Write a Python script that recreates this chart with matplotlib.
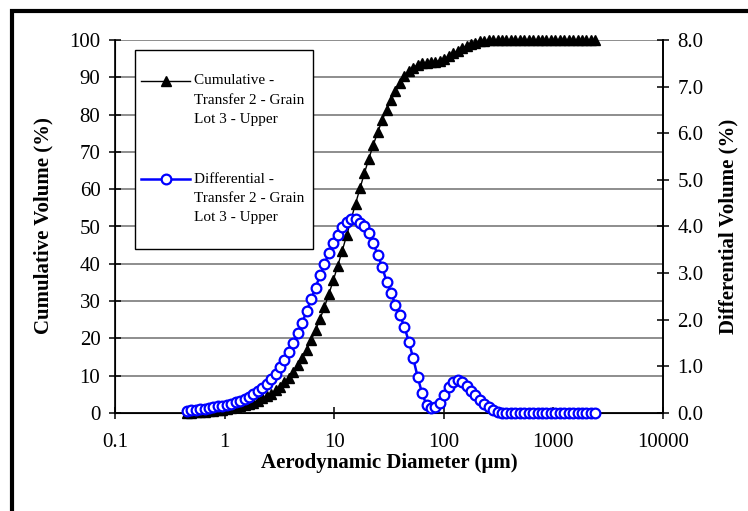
import numpy as np
import matplotlib
matplotlib.use("Agg")
import matplotlib.pyplot as plt
from matplotlib.lines import Line2D
from matplotlib.patches import Rectangle
from matplotlib.ticker import NullLocator

plt.rcParams['font.family'] = ['Liberation Serif', 'DejaVu Serif']

# particle size channels (um)
diameter = [0.452, 0.496, 0.545, 0.598, 0.657, 0.721, 0.791, 0.869, 0.953, 1.047,
            1.149, 1.261, 1.385, 1.520, 1.668, 1.832, 2.011, 2.207, 2.423, 2.660,
            2.920, 3.205, 3.519, 3.863, 4.240, 4.655, 5.110, 5.610, 6.158, 6.760,
            7.421, 8.147, 8.943, 9.817, 10.78, 11.83, 12.99, 14.26, 15.65, 17.18,
            18.86, 20.71, 22.73, 24.95, 27.39, 30.07, 33.01, 36.24, 39.78, 43.67,
            47.94, 52.62, 57.77, 63.41, 69.61, 76.42, 83.89, 92.09, 101.1, 111.0,
            121.8, 133.7, 146.8, 161.2, 176.9, 194.2, 213.2, 234.1, 256.9, 282.1,
            309.6, 339.9, 373.1, 409.6, 449.7, 493.6, 541.9, 594.9, 653.0, 716.9,
            786.9, 863.9, 948.3, 1041, 1143, 1255, 1377, 1512, 1660, 1822,
            2000, 2196, 2411]

# cumulative volume (%)
cumulative = [0.1, 0.1, 0.2, 0.3, 0.4, 0.5, 0.6, 0.7, 0.9, 1.1,
              1.3, 1.5, 1.8, 2.1, 2.4, 2.8, 3.3, 3.9, 4.5, 5.2,
              6.1, 7.1, 8.2, 9.5, 11.1, 12.8, 14.8, 17.0, 19.5, 22.2,
              25.2, 28.4, 31.9, 35.6, 39.5, 43.5, 47.6, 51.9, 56.1, 60.2,
              64.3, 68.2, 71.9, 75.3, 78.5, 81.3, 83.9, 86.3, 88.4, 90.3,
              91.6, 92.6, 93.3, 93.7, 93.9, 94.0, 94.2, 94.5, 95.0, 95.6,
              96.4, 97.1, 97.8, 98.4, 98.9, 99.3, 99.6, 99.8, 99.9, 100.0,
              100.0, 100.0, 100.0, 100.0, 100.0, 100.0, 100.0, 100.0, 100.0, 100.0,
              100.0, 100.0, 100.0, 100.0, 100.0, 100.0, 100.0, 100.0, 100.0, 100.0,
              100.0, 100.0, 100.0]

# differential volume (%)
differential = [0.05, 0.06, 0.07, 0.08, 0.09, 0.11, 0.12, 0.14, 0.16, 0.18,
                0.20, 0.23, 0.26, 0.30, 0.35, 0.41, 0.47, 0.54, 0.62, 0.72,
                0.84, 0.98, 1.14, 1.30, 1.51, 1.71, 1.94, 2.19, 2.44, 2.69,
                2.95, 3.19, 3.43, 3.64, 3.82, 3.98, 4.09, 4.16, 4.16, 4.08,
                4.00, 3.86, 3.64, 3.39, 3.13, 2.82, 2.57, 2.32, 2.10, 1.85,
                1.53, 1.17, 0.77, 0.42, 0.17, 0.10, 0.12, 0.22, 0.39, 0.55,
                0.66, 0.70, 0.67, 0.58, 0.48, 0.38, 0.28, 0.19, 0.12, 0.06,
                0.03, 0.01, 0.0, 0.0, 0.0, 0.0, 0.0, 0.0, 0.0, 0.0,
                0.0, 0.0, 0.0, 0.0, 0.0, 0.0, 0.0, 0.0, 0.0, 0.0,
                0.0, 0.0, 0.0]

x_ticks = [0.1, 1, 10, 100, 1000, 10000]
x_labels = ['0.1', '1', '10', '100', '1000', '10000']
left_ticks = list(range(0, 101, 10))
right_ticks = [0, 1, 2, 3, 4, 5, 6, 7, 8]

cum_label = ['Cumulative -', 'Transfer 2 - Grain', 'Lot 3 - Upper']
diff_label = ['Differential -', 'Transfer 2 - Grain', 'Lot 3 - Upper']

W, H = 748, 511
fig = plt.figure(figsize=(W / 100, H / 100), dpi=100)


def fx(px):
    return px / W


def fy(py):
    return 1 - py / H


ax = fig.add_axes([fx(115), fy(413), fx(663) - fx(115), fy(40) - fy(413)])
ax.plot(diameter, cumulative, color='black', lw=1, marker='^', ms=6.5,
        mfc='black', mec='black', clip_on=False, zorder=3)
ax.set_xscale('log')
ax.set_xlim(0.1, 10000)
ax.set_ylim(0, 100)
ax.set_xticks(x_ticks)
ax.set_xticklabels(x_labels)
ax.xaxis.set_minor_locator(NullLocator())
ax.set_yticks(left_ticks)
ax.yaxis.grid(True, color='#7a7a7a', lw=1.2)
ax.set_axisbelow(True)
ax.spines['top'].set_visible(False)
for s in ['left', 'bottom', 'right']:
    ax.spines[s].set_linewidth(1.2)
ax.tick_params(direction='inout', length=9, width=1.1, labelsize=15, pad=6)
ax.tick_params(axis='x', pad=10)

ax2 = ax.twinx()
ax2.plot(diameter, differential, color='#0000ff', lw=1.8, marker='o', ms=7,
         mfc='white', mec='#0000ff', mew=1.6, clip_on=False, zorder=4)
ax2.set_ylim(0, 8)
ax2.set_yticks(right_ticks)
ax2.set_yticklabels([f'{v:.1f}' for v in right_ticks])
ax2.spines['top'].set_visible(False)
ax2.spines['right'].set_linewidth(1.2)
ax2.tick_params(direction='inout', length=9, width=1.1, labelsize=15, pad=6)

# axis titles
fig.text(fx(389), fy(463), 'Aerodynamic Diameter (\u00b5m)', ha='center', va='center',
         fontsize=15, fontweight='bold')
fig.text(fx(43), fy(226), 'Cumulative Volume (%)', ha='center', va='center',
         rotation=90, fontsize=15, fontweight='bold')
fig.text(fx(728), fy(226), 'Differential Volume (%)', ha='center', va='center',
         rotation=90, fontsize=15, fontweight='bold')

# legend box
fig.add_artist(Rectangle((fx(135), fy(249)), fx(313) - fx(135), fy(50) - fy(249),
                         transform=fig.transFigure, facecolor='white',
                         edgecolor='black', lw=1.0, zorder=10))
for y0, lines, style in [
        (81, cum_label, dict(color='black', lw=1, marker='^', ms=6.5, mfc='black', mec='black')),
        (179, diff_label, dict(color='#0000ff', lw=1.8, marker='o', ms=7, mfc='white',
                               mec='#0000ff', mew=1.6))]:
    fig.add_artist(Line2D([fx(141), fx(190)], [fy(y0), fy(y0)], transform=fig.transFigure,
                          color=style['color'], lw=style['lw'], zorder=11))
    mk = dict(style)
    mk.pop('lw')
    mk.pop('color')
    fig.add_artist(Line2D([fx(166)], [fy(y0)], transform=fig.transFigure,
                          linestyle='none', zorder=12, **mk))
    for i, t in enumerate(lines):
        fig.text(fx(194), fy(y0 + 19.5 * i), t, ha='left', va='center', fontsize=11,
                 zorder=12)

# outer chart border
fig.add_artist(Rectangle((fx(12), -0.5), 2, fy(11.5) + 0.5, transform=fig.transFigure,
                         fill=False, edgecolor='black', lw=3))

fig.savefig('out.png', dpi=100)
